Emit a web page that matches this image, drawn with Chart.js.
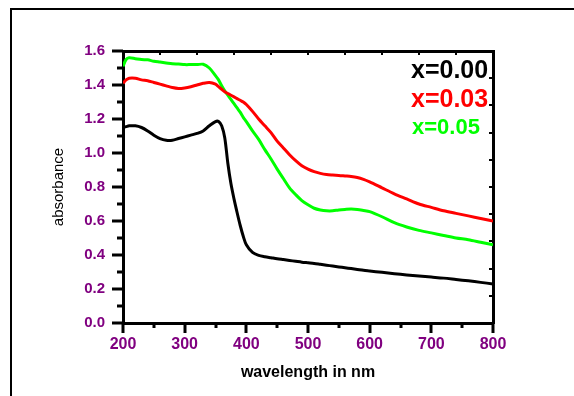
<!DOCTYPE html>
<html><head><meta charset="utf-8">
<script src="https://cdn.jsdelivr.net/npm/chart.js@4/dist/chart.umd.min.js"></script>
<style>
html,body{margin:0;padding:0;background:#fff;}
#wrap{position:relative;width:574px;height:396px;overflow:hidden;background:#fff;}
#frame{position:absolute;left:10px;top:8px;width:700px;height:500px;border-top:2px solid #000;border-left:2px solid #000;}
canvas{position:absolute;left:0;top:0;}
</style></head><body>
<div id="wrap"><div id="frame"></div><canvas id="c" width="574" height="396"></canvas></div>
<script>
// ---- data ----
const wavelengths = [200,205,210,220,230,240,250,260,270,280,290,300,310,320,330,340,350,355,360,365,370,375,380,385,390,395,400,410,420,430,440,450,460,470,480,490,500,510,520,530,540,550,560,570,580,590,600,620,640,660,680,700,720,740,760,780,800];
const absX000 = [1.15,1.155,1.16,1.16,1.15,1.13,1.105,1.085,1.075,1.075,1.085,1.095,1.105,1.115,1.13,1.16,1.185,1.185,1.16,1.09,0.94,0.82,0.73,0.65,0.575,0.51,0.46,0.415,0.398,0.39,0.384,0.378,0.373,0.368,0.363,0.358,0.354,0.35,0.345,0.34,0.335,0.33,0.325,0.32,0.315,0.31,0.306,0.298,0.29,0.283,0.276,0.27,0.264,0.256,0.248,0.239,0.23];
const absX003 = [1.41,1.43,1.44,1.44,1.43,1.425,1.415,1.405,1.395,1.385,1.38,1.383,1.39,1.40,1.41,1.415,1.405,1.39,1.375,1.36,1.35,1.34,1.33,1.32,1.31,1.30,1.285,1.245,1.20,1.16,1.12,1.07,1.03,0.99,0.955,0.925,0.905,0.89,0.88,0.873,0.87,0.868,0.865,0.862,0.856,0.845,0.83,0.795,0.76,0.73,0.70,0.68,0.66,0.645,0.63,0.615,0.60];
const absX005 = [1.51,1.55,1.56,1.555,1.55,1.548,1.54,1.535,1.53,1.525,1.523,1.52,1.52,1.52,1.522,1.50,1.455,1.43,1.395,1.365,1.34,1.315,1.29,1.265,1.24,1.21,1.185,1.13,1.08,1.02,0.965,0.905,0.85,0.795,0.755,0.72,0.695,0.675,0.665,0.66,0.66,0.665,0.668,0.67,0.668,0.662,0.655,0.625,0.59,0.565,0.545,0.53,0.515,0.50,0.49,0.475,0.46];
const seriesLabels = ['x=0.00','x=0.03','x=0.05'];
const seriesColors = ['#000000','#ff0000','#00ff00'];
const xTickLabels = ['200','300','400','500','600','700','800'];
const yTickLabels = ['0.0','0.2','0.4','0.6','0.8','1.0','1.2','1.4','1.6'];
const xTitle = 'wavelength in nm';
const yTitle = 'absorbance';

const PURPLE = '#800080';
const FONT = "'Liberation Sans', Arial, sans-serif";

const seriesData = [absX000, absX003, absX005];
const datasets = seriesData.map((arr, i) => ({
  label: seriesLabels[i],
  data: wavelengths.map((w, j) => ({x: w, y: arr[j]})),
  borderColor: seriesColors[i],
  backgroundColor: seriesColors[i],
  borderWidth: 3,
  pointRadius: 0,
  tension: 0.3,
  fill: false
}));

// tick marks (outward majors/minors on bottom/left, inward on top/right)
const tickPlugin = {
  id: 'tickMarks',
  afterDraw(chart) {
    const ctx = chart.ctx;
    const {x, y, x2, y2} = chart.scales;
    ctx.save();
    ctx.strokeStyle = '#000';
    ctx.lineWidth = 3;
    ctx.lineCap = 'butt';
    x.ticks.forEach(t => {
      const px = Math.round(x.getPixelForValue(t.value));
      const major = Math.round(t.value) % 100 === 0;
      ctx.beginPath();
      ctx.moveTo(px, x.top);
      ctx.lineTo(px, x.top + (major ? 10 : 5));
      ctx.stroke();
    });
    y.ticks.forEach(t => {
      const py = Math.round(y.getPixelForValue(t.value));
      const major = Math.round(t.value * 10) % 2 === 0;
      ctx.beginPath();
      ctx.moveTo(y.right, py);
      ctx.lineTo(y.right - (major ? 11 : 6), py);
      ctx.stroke();
    });
    ctx.lineWidth = 2;
    x2.ticks.forEach(t => {
      if (t.value <= 0 || t.value >= 10) return;
      const px = Math.round(x2.getPixelForValue(t.value));
      ctx.beginPath();
      ctx.moveTo(px, x2.bottom);
      ctx.lineTo(px, x2.bottom + 4);
      ctx.stroke();
    });
    y2.ticks.forEach(t => {
      if (t.value <= 0 || t.value >= 10) return;
      const py = Math.round(y2.getPixelForValue(t.value));
      ctx.beginPath();
      ctx.moveTo(y2.left, py);
      ctx.lineTo(y2.left - 4, py);
      ctx.stroke();
    });
    ctx.restore();
  }
};

// series labels drawn inside the plot (top-right)
const labelPlugin = {
  id: 'seriesLabels',
  afterDraw(chart) {
    const ctx = chart.ctx;
    const pos = [[411, 78, 25], [411, 107, 25], [412, 134, 22]];
    ctx.save();
    ctx.textAlign = 'left';
    ctx.textBaseline = 'alphabetic';
    chart.data.datasets.forEach((ds, i) => {
      ctx.font = 'bold ' + pos[i][2] + 'px ' + FONT;
      ctx.fillStyle = ds.borderColor;
      ctx.fillText(ds.label, pos[i][0], pos[i][1]);
    });
    ctx.restore();
  }
};

new Chart(document.getElementById('c'), {
  type: 'line',
  data: { datasets },
  options: {
    responsive: false,
    animation: false,
    devicePixelRatio: 1,
    layout: { padding: { top: 51, right: 81, left: 0, bottom: 0 } },
    plugins: { legend: { display: false }, tooltip: { enabled: false } },
    scales: {
      x: {
        type: 'linear', position: 'bottom', min: 200, max: 800,
        afterFit: s => { s.height = 73; },
        border: { display: true, color: '#000', width: 3 },
        grid: { display: false, drawTicks: false },
        ticks: {
          stepSize: 50, padding: 12, color: PURPLE, maxRotation: 0, autoSkip: false,
          font: { family: FONT, size: 16, weight: 'bold' },
          callback: v => (Math.round(v) % 100 === 0 ? xTickLabels[(Math.round(v) - 200) / 100] : '')
        },
        title: { display: true, text: xTitle, color: '#000', padding: { top: 0, bottom: 14 },
          font: { family: FONT, size: 16, weight: 'bold' } }
      },
      y: {
        type: 'linear', position: 'left', min: 0, max: 1.6,
        afterFit: s => { s.width = 123; },
        border: { display: true, color: '#000', width: 3 },
        grid: { display: false, drawTicks: false },
        ticks: {
          stepSize: 0.1, padding: 18, color: PURPLE, autoSkip: false,
          font: { family: FONT, size: 15, weight: 'bold' },
          callback: v => { const k = Math.round(v * 10); return k % 2 === 0 ? yTickLabels[k / 2] : ''; }
        },
        title: { display: true, text: yTitle, color: '#000', padding: { top: 50, bottom: 0 },
          font: { family: FONT, size: 15, weight: 'normal' } }
      },
      x2: {
        type: 'linear', position: 'top', min: 0, max: 10, display: true,
        afterFit: s => { s.height = 0; },
        border: { display: true, color: '#000', width: 3 },
        grid: { display: false, drawTicks: false },
        ticks: { display: false, stepSize: 1 }
      },
      y2: {
        type: 'linear', position: 'right', min: 0, max: 10, display: true,
        afterFit: s => { s.width = 0; },
        border: { display: true, color: '#000', width: 3 },
        grid: { display: false, drawTicks: false },
        ticks: { display: false, stepSize: 1 }
      }
    }
  },
  plugins: [tickPlugin, labelPlugin]
});
</script>
</body></html>
